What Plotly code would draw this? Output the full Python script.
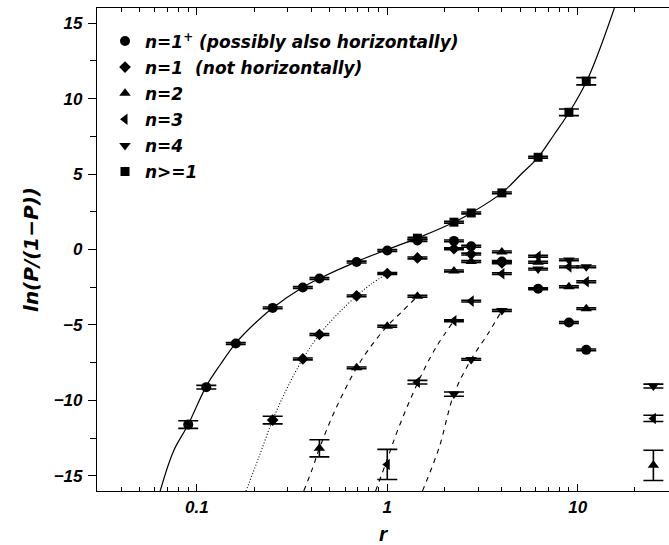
import plotly.graph_objects as go

# ---------------- data ----------------
circ_x = [0.09, 0.112, 0.16, 0.25, 0.36, 0.44, 0.69, 1.0, 1.44, 2.24, 2.76, 4.0, 6.2, 9.0, 11.1]
circ_y = [-11.6, -9.12, -6.23, -3.87, -2.52, -1.92, -0.83, -0.07, 0.6, 0.57, 0.22, -0.8, -2.6, -4.84, -6.65]
circ_e = [0.25, 0.12, 0.06, 0.06, 0.06, 0.06, 0.06, 0.06, 0.06, 0.06, 0.06, 0.06, 0.06, 0.06, 0.06]

diam_x = [0.25, 0.36, 0.44, 0.69, 1.0, 1.44, 2.24, 2.76, 4.0]
diam_y = [-11.3, -7.25, -5.63, -3.07, -1.59, -0.56, 0.05, -0.3, -0.88]
diam_e = [0.25, 0.06, 0.06, 0.06, 0.06, 0.06, 0.06, 0.06, 0.06]

tri2_x = [0.44, 0.69, 1.0, 1.44, 2.24, 2.76, 4.0, 6.2, 9.0, 11.1, 25.0]
tri2_y = [-13.17, -7.84, -5.08, -3.1, -1.42, -0.8, -0.16, -0.85, -2.47, -3.92, -14.3]
tri2_e = [0.57, 0.06, 0.06, 0.06, 0.06, 0.06, 0.06, 0.06, 0.06, 0.06, 1.0]

tri3_x = [1.0, 1.44, 2.24, 2.76, 4.0, 6.2, 9.0, 11.1, 25.0]
tri3_y = [-14.24, -8.79, -4.72, -3.42, -1.6, -0.45, -1.15, -2.14, -11.19]
tri3_e = [1.0, 0.12, 0.06, 0.06, 0.06, 0.06, 0.06, 0.06, 0.21]

tri4_x = [2.24, 2.76, 4.0, 6.2, 9.0, 11.1, 25.0]
tri4_y = [-9.58, -7.28, -4.04, -1.3, -0.69, -1.15, -9.05]
tri4_e = [0.14, 0.06, 0.06, 0.06, 0.06, 0.06, 0.13]

sq_x = [1.44, 2.24, 2.76, 4.0, 6.2, 9.0, 11.1]
sq_y = [0.75, 1.81, 2.42, 3.75, 6.11, 9.09, 11.15]
sq_e = [0.06, 0.06, 0.06, 0.06, 0.06, 0.22, 0.24]

# fitted curves
solid_x = [0.0641, 0.0753, 0.09, 0.1115, 0.1327, 0.16, 0.1986, 0.25, 0.36, 0.44, 0.69,
           1.0, 1.44, 2.24, 2.76, 4.0, 5.03, 6.2, 7.53, 9.03, 11.15, 13.0, 15.6]
solid_y = [-16.0, -13.36, -11.6, -9.1, -7.62, -6.2, -4.97, -3.87, -2.5, -1.92, -0.8,
           0.0, 0.75, 1.8, 2.42, 3.75, 4.97, 6.11, 7.62, 9.09, 11.15, 13.2, 16.0]
dot_x = [0.181, 0.211, 0.25, 0.298, 0.36, 0.44, 0.546, 0.69, 0.817, 1.0]
dot_y = [-16.0, -13.8, -11.3, -9.17, -7.25, -5.63, -4.3, -3.07, -2.32, -1.59]
dash2_x = [0.364, 0.403, 0.44, 0.534, 0.69, 0.834, 1.0, 1.2, 1.44]
dash2_y = [-16.0, -14.57, -13.17, -10.6, -7.84, -6.29, -5.08, -4.09, -3.1]
dash3_x = [0.868, 1.0, 1.129, 1.45, 1.796, 2.24]
dash3_y = [-16.0, -13.9, -12.03, -8.79, -6.52, -4.72]
dash4_x = [1.53, 1.87, 2.24, 2.76, 3.36, 4.0]
dash4_y = [-16.0, -13.14, -9.58, -7.28, -5.63, -4.04]

names = ["n=1<sup>+</sup> (possibly also horizontally)",
         "n=1 \u00a0(not horizontally)",
         "n=2", "n=3", "n=4", "n>=1"]

x_tickvals = [0.1, 1, 10]
x_ticktext = ["0.1", "1", "10"]
y_tickvals = [-15, -10, -5, 0, 5, 10, 15]

# ---------------- figure ----------------
FONT = "Liberation Sans"
LFONT = "DejaVu Sans"
fig = go.Figure()

def curve(x, y, dash, w=1.1):
    fig.add_trace(go.Scatter(x=x, y=y, mode="lines", line=dict(color="black", width=w, dash=dash, shape="spline"),
                             showlegend=False, hoverinfo="skip"))

curve(solid_x, solid_y, "solid", 1.2)
curve(dot_x, dot_y, "1px,2px")
curve(dash2_x, dash2_y, "5px,5px")
curve(dash3_x, dash3_y, "5px,5px")
curve(dash4_x, dash4_y, "5px,5px")

def pts(x, y, e, sym, size, name, rank):
    fig.add_trace(go.Scatter(
        x=x, y=y, mode="markers", name=name, legendrank=rank, legendgroup=str(rank),
        marker=dict(symbol=sym, size=size, color="black", line=dict(width=0)),
        error_y=dict(type="data", array=e, visible=True, color="black", thickness=1.6, width=10),
        cliponaxis=False,
    ))

pts(sq_x, sq_y, sq_e, "square", 9, names[5], 6)
pts(tri4_x, tri4_y, tri4_e, "triangle-down", 10, names[4], 5)
pts(tri3_x, tri3_y, tri3_e, "triangle-left", 10, names[3], 4)
pts(tri2_x, tri2_y, tri2_e, "triangle-up", 10, names[2], 3)
pts(diam_x, diam_y, diam_e, "diamond", 9, names[1], 2)
pts(circ_x, circ_y, circ_e, "circle", 10, names[0], 1)

axis_font = dict(family=FONT, size=17, color="black", weight="bold", style="italic")

fig.update_layout(
    width=669, height=545,
    margin=dict(l=97, r=0, t=8, b=54, autoexpand=False),
    paper_bgcolor="white", plot_bgcolor="white",
    showlegend=True,
    legend=dict(x=0.014, y=0.968, xanchor="left", yanchor="top", bgcolor="rgba(0,0,0,0)",
                font=dict(family=LFONT, size=17, color="black", weight="bold", style="italic"),
                tracegroupgap=1, itemwidth=30),
    xaxis=dict(type="log", range=[-1.525, 1.48], showgrid=False, zeroline=False, automargin=False,
               showline=True, linecolor="black", linewidth=1.2, mirror="ticks",
               ticks="inside", ticklen=7, tickwidth=1, tickcolor="black",
               tickvals=x_tickvals, ticktext=x_ticktext, tickfont=axis_font,
               minor=dict(ticks="inside", ticklen=4, tickwidth=1, tickcolor="black", showgrid=False,
                          tickvals=[0.04, 0.05, 0.06, 0.07, 0.08, 0.09, 0.2, 0.3, 0.4, 0.5, 0.6, 0.7, 0.8, 0.9,
                                    2, 3, 4, 5, 6, 7, 8, 9, 20, 30]),
               title=dict(text="r", font=dict(family=FONT, size=21, color="black", weight="bold", style="italic"),
                          standoff=11)),
    yaxis=dict(range=[-16, 16], showgrid=False, zeroline=False, automargin=False,
               showline=True, linecolor="black", linewidth=1.2,
               ticks="outside", ticklen=8, tickwidth=1, tickcolor="black",
               tickvals=y_tickvals, tickfont=axis_font, ticklabelstandoff=2,
               minor=dict(ticks="outside", ticklen=6, tickwidth=1, tickcolor="black", dtick=2.5, showgrid=False),
               title=dict(text="ln(P/(1\u2212P))", font=dict(family=LFONT, size=20, color="black", weight="bold", style="italic"),
                          standoff=9)),
)

fig.write_html("out.html", config={"displayModeBar": False},
               post_script="document.body.style.margin='0';document.body.style.overflow='hidden';")
